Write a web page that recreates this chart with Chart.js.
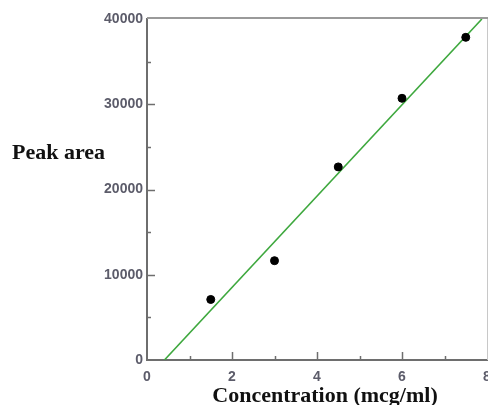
<!DOCTYPE html>
<html>
<head>
<meta charset="utf-8">
<script src="https://cdn.jsdelivr.net/npm/chart.js@4"></script>
<style>
html,body{margin:0;padding:0;background:#fff;}
canvas{display:block;}
</style>
</head>
<body>
<canvas id="c" width="488" height="405"></canvas>
<script>
// Data
const concentration = [1.5, 3, 4.5, 6, 7.5];
const peakArea = [7100, 11650, 22650, 30700, 37850];
// Fitted line end points
const fitX = [0.41, 7.88];
const fitY = [0, 40000];
const xTicks = [0, 2, 4, 6, 8];
const yTicks = [0, 10000, 20000, 30000, 40000];
const xTitle = 'Concentration (mcg/ml)';
const yTitle = 'Peak area';

const tickColor = '#5c5c6a';
const axisColor = '#6e6e6e';

const decor = {
  id: 'decor',
  afterDatasetsDraw(chart) {
    const ctx = chart.ctx;
    const a = chart.chartArea;
    const xs = chart.scales.x, ys = chart.scales.y;
    ctx.save();
    // frame top and right
    ctx.strokeStyle = '#9a9a9a';
    ctx.lineWidth = 2;
    ctx.beginPath();
    ctx.moveTo(a.left, a.top - 1);
    ctx.lineTo(a.right + 1, a.top - 1);
    ctx.stroke();
    ctx.strokeStyle = '#c8c8c8';
    ctx.lineWidth = 1;
    ctx.beginPath();
    ctx.moveTo(a.right + 0.5, a.top);
    ctx.lineTo(a.right + 0.5, a.bottom);
    ctx.stroke();
    // inward ticks
    ctx.strokeStyle = axisColor;
    ctx.lineWidth = 1.5;
    const xStep = xTicks[1] - xTicks[0];
    for (let i = 0; i < xTicks.length - 1; i++) {
      for (const v of [xTicks[i], xTicks[i] + xStep / 2]) {
        if (v === xTicks[0]) continue;
        const p = Math.round(xs.getPixelForValue(v)) + 0.5;
        const len = (v === xTicks[i]) ? 8 : 4;
        ctx.beginPath();
        ctx.moveTo(p, a.bottom);
        ctx.lineTo(p, a.bottom - len);
        ctx.stroke();
      }
    }
    const yStep = yTicks[1] - yTicks[0];
    for (let i = 0; i < yTicks.length - 1; i++) {
      for (const v of [yTicks[i], yTicks[i] + yStep / 2]) {
        if (v === yTicks[0]) continue;
        const p = Math.round(ys.getPixelForValue(v)) + 0.5;
        const len = (v === yTicks[i]) ? 8 : 4;
        ctx.beginPath();
        ctx.moveTo(a.left, p);
        ctx.lineTo(a.left + len, p);
        ctx.stroke();
      }
    }
    // titles
    ctx.fillStyle = '#111';
    ctx.font = 'bold 22px "Liberation Serif", "Times New Roman", serif';
    ctx.textAlign = 'left';
    ctx.textBaseline = 'alphabetic';
    ctx.fillText(yTitle, 12, 159);
    ctx.textAlign = 'center';
    ctx.fillText(xTitle, (a.left + a.right) / 2 + 8, 402);
    ctx.restore();
  }
};

new Chart(document.getElementById('c'), {
  type: 'scatter',
  data: {
    datasets: [
      {
        label: 'Data',
        data: concentration.map((x, i) => ({x: x, y: peakArea[i]})),
        backgroundColor: '#000',
        borderColor: '#000',
        pointRadius: 4,
        pointHoverRadius: 4,
        order: 0
      },
      {
        label: 'Fit',
        type: 'line',
        data: fitX.map((x, i) => ({x: x, y: fitY[i]})),
        borderColor: '#3ea83e',
        borderWidth: 1.6,
        pointRadius: 0,
        fill: false,
        order: 1
      }
    ]
  },
  options: {
    responsive: false,
    animation: false,
    devicePixelRatio: 1,
    layout: {autoPadding: false, padding: {top: 19, right: 1, left: 0, bottom: 0}},
    plugins: {legend: {display: false}, tooltip: {enabled: false}},
    scales: {
      x: {
        type: 'linear',
        min: xTicks[0],
        max: xTicks[xTicks.length - 1],
        afterBuildTicks: s => { s.ticks = xTicks.map(v => ({value: v})); },
        afterFit: s => { s.height = 45; s.paddingRight = 0; s.paddingLeft = 0; },
        grid: {display: false, drawTicks: false},
        border: {display: true, color: axisColor, width: 2},
        ticks: {
          color: tickColor,
          font: {family: '"Liberation Sans", Arial, sans-serif', size: 14, weight: 'bold'},
          padding: 9,
          maxRotation: 0,
          callback: v => String(v)
        }
      },
      y: {
        type: 'linear',
        min: yTicks[0],
        max: yTicks[yTicks.length - 1],
        afterBuildTicks: s => { s.ticks = yTicks.map(v => ({value: v})); },
        afterFit: s => { s.width = 147; s.paddingTop = 0; s.paddingBottom = 0; },
        grid: {display: false, drawTicks: false},
        border: {display: true, color: axisColor, width: 2},
        ticks: {
          color: tickColor,
          font: {family: '"Liberation Sans", Arial, sans-serif', size: 14, weight: 'bold'},
          padding: 4,
          callback: v => String(v)
        }
      }
    }
  },
  plugins: [decor]
});
</script>
</body>
</html>
